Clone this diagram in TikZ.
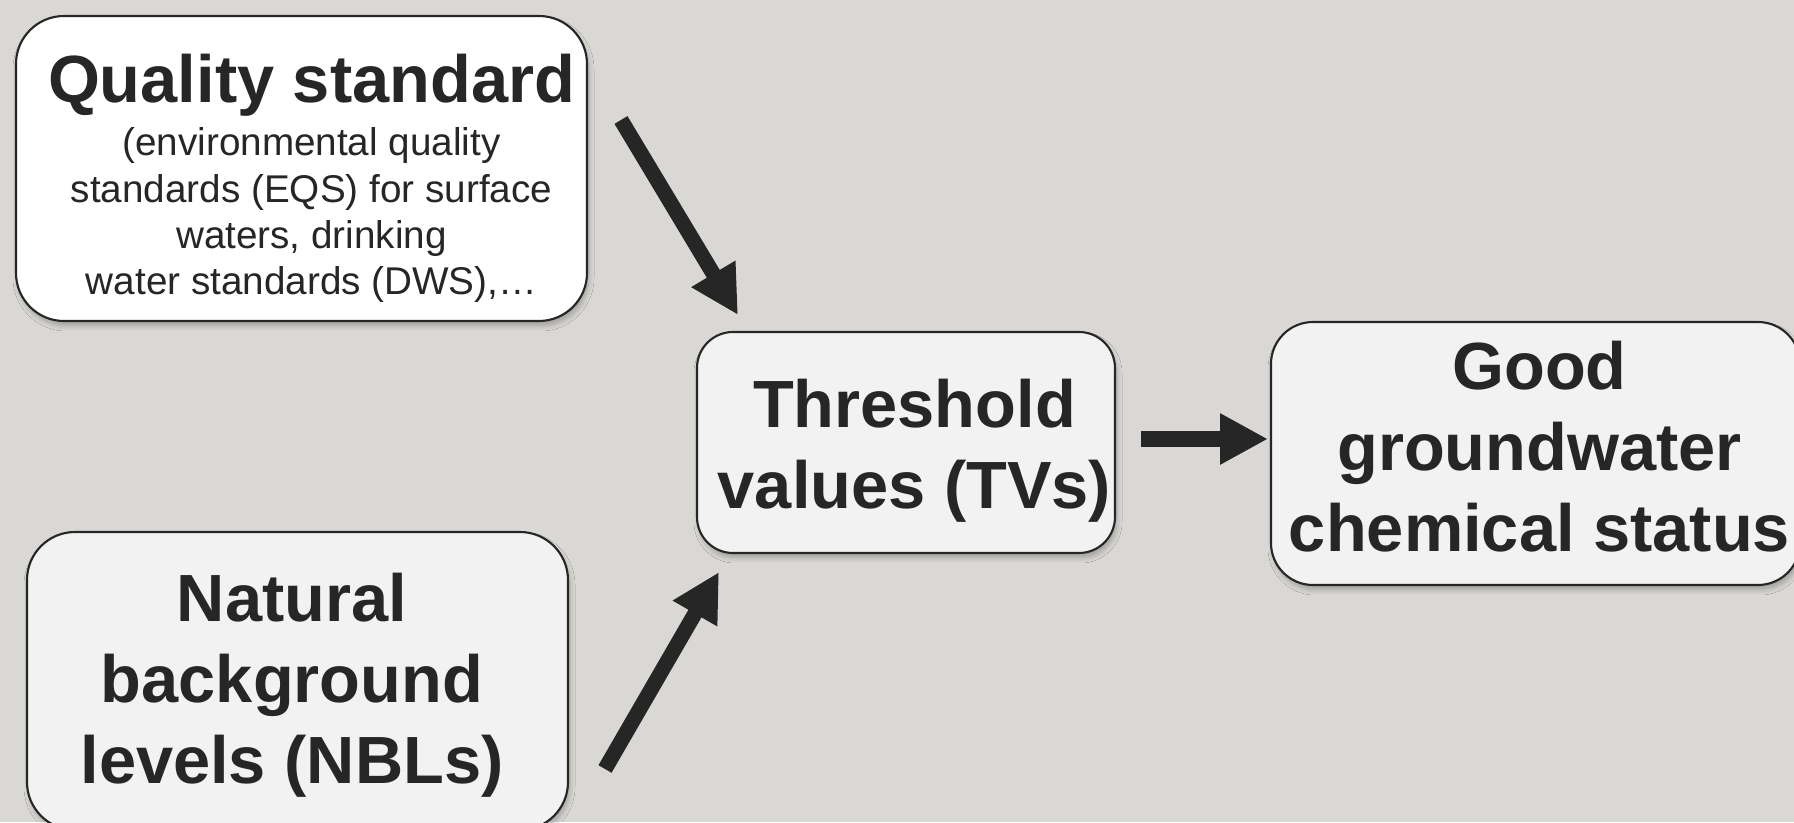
\documentclass[tikz,border=0pt]{standalone}
\usepackage{fontspec}
\setmainfont{Liberation Sans}
\usepackage{tikz}
\usetikzlibrary{arrows.meta,positioning,shadows.blur}

\definecolor{slidebg}{HTML}{D9D8D4}
\definecolor{boxfill}{HTML}{F2F2F2}
\definecolor{ink}{HTML}{262626}

\tikzset{
  stagebox/.style={draw=ink, line width=0.6pt, fill=boxfill, rounded corners=0.42cm,
    inner sep=0pt,
    blur shadow={shadow xshift=0.02cm, shadow yshift=-0.05cm,
      shadow opacity=25, shadow blur radius=0.05cm}},
  stagetext/.style={align=center, text=ink, inner sep=0pt,
    font=\fontsize{19}{23}\selectfont\bfseries},
  bigarrow/.style={ink, line width=4.3pt,
    -{Triangle[length=0.48cm,width=0.48cm]}}
}

\begin{document}
\begin{tikzpicture}
        % Slide background
        \fill[slidebg] (0,0) rectangle (17.94,8.22);
        \useasboundingbox (0,0) rectangle (17.94,8.22);
        \clip (0,0) rectangle (17.94,8.22);
        % Draw the boxes
        \node[stagebox, fill=white, minimum width=5.71cm, minimum height=3.05cm,
              rounded corners=0.48cm] (quality) at (3.015,6.535) {};
        \node[stagebox, minimum width=4.18cm, minimum height=2.21cm,
              rounded corners=0.36cm] (tv) at (9.06,3.795) {};
        \node[stagebox, minimum width=5.29cm, minimum height=2.63cm] (good) at (15.355,3.685) {};
        \node[stagebox, minimum width=5.41cm, minimum height=2.98cm,
              rounded corners=0.48cm] (nbl) at (2.975,1.41) {};
        % Box texts
        \node[stagetext, font=\fontsize{11}{13.2}\selectfont] (quality-text)
          at ([shift={(0.10,-0.10)}]quality.center)
          {{\fontsize{19}{23}\selectfont\bfseries Quality standard}\\[1.95pt]
           (environmental quality\\
           standards (EQS) for surface\\
           waters, drinking\\
           water standards (DWS),…};
        \node[stagetext] (tv-text) at ([shift={(0.085,-0.08)}]tv.center)
          {Threshold\\ values (TVs)};
        \node[stagetext] (good-text) at ([shift={(0.04,0.07)}]good.center)
          {Good\\ groundwater\\ chemical status};
        \node[stagetext] (nbl-text) at ([shift={(-0.055,-0.045)}]nbl.center)
          {Natural\\ background\\ levels (NBLs)};
        % Arrow ends
        \coordinate (quality-out) at (6.21,7.02);
        \coordinate (tv-in-top) at (7.38,5.07);
        \coordinate (nbl-out) at (6.05,0.53);
        \coordinate (tv-in-bottom) at (7.19,2.50);
        \coordinate (tv-out) at (11.41,3.83);
        \coordinate (good-in) at (12.68,3.83);
        % Arrows
        \draw[bigarrow] (quality-out) -- (tv-in-top);
        \draw[bigarrow] (nbl-out) -- (tv-in-bottom);
        \draw[bigarrow] (tv-out) -- (good-in);
\end{tikzpicture}
\end{document}
